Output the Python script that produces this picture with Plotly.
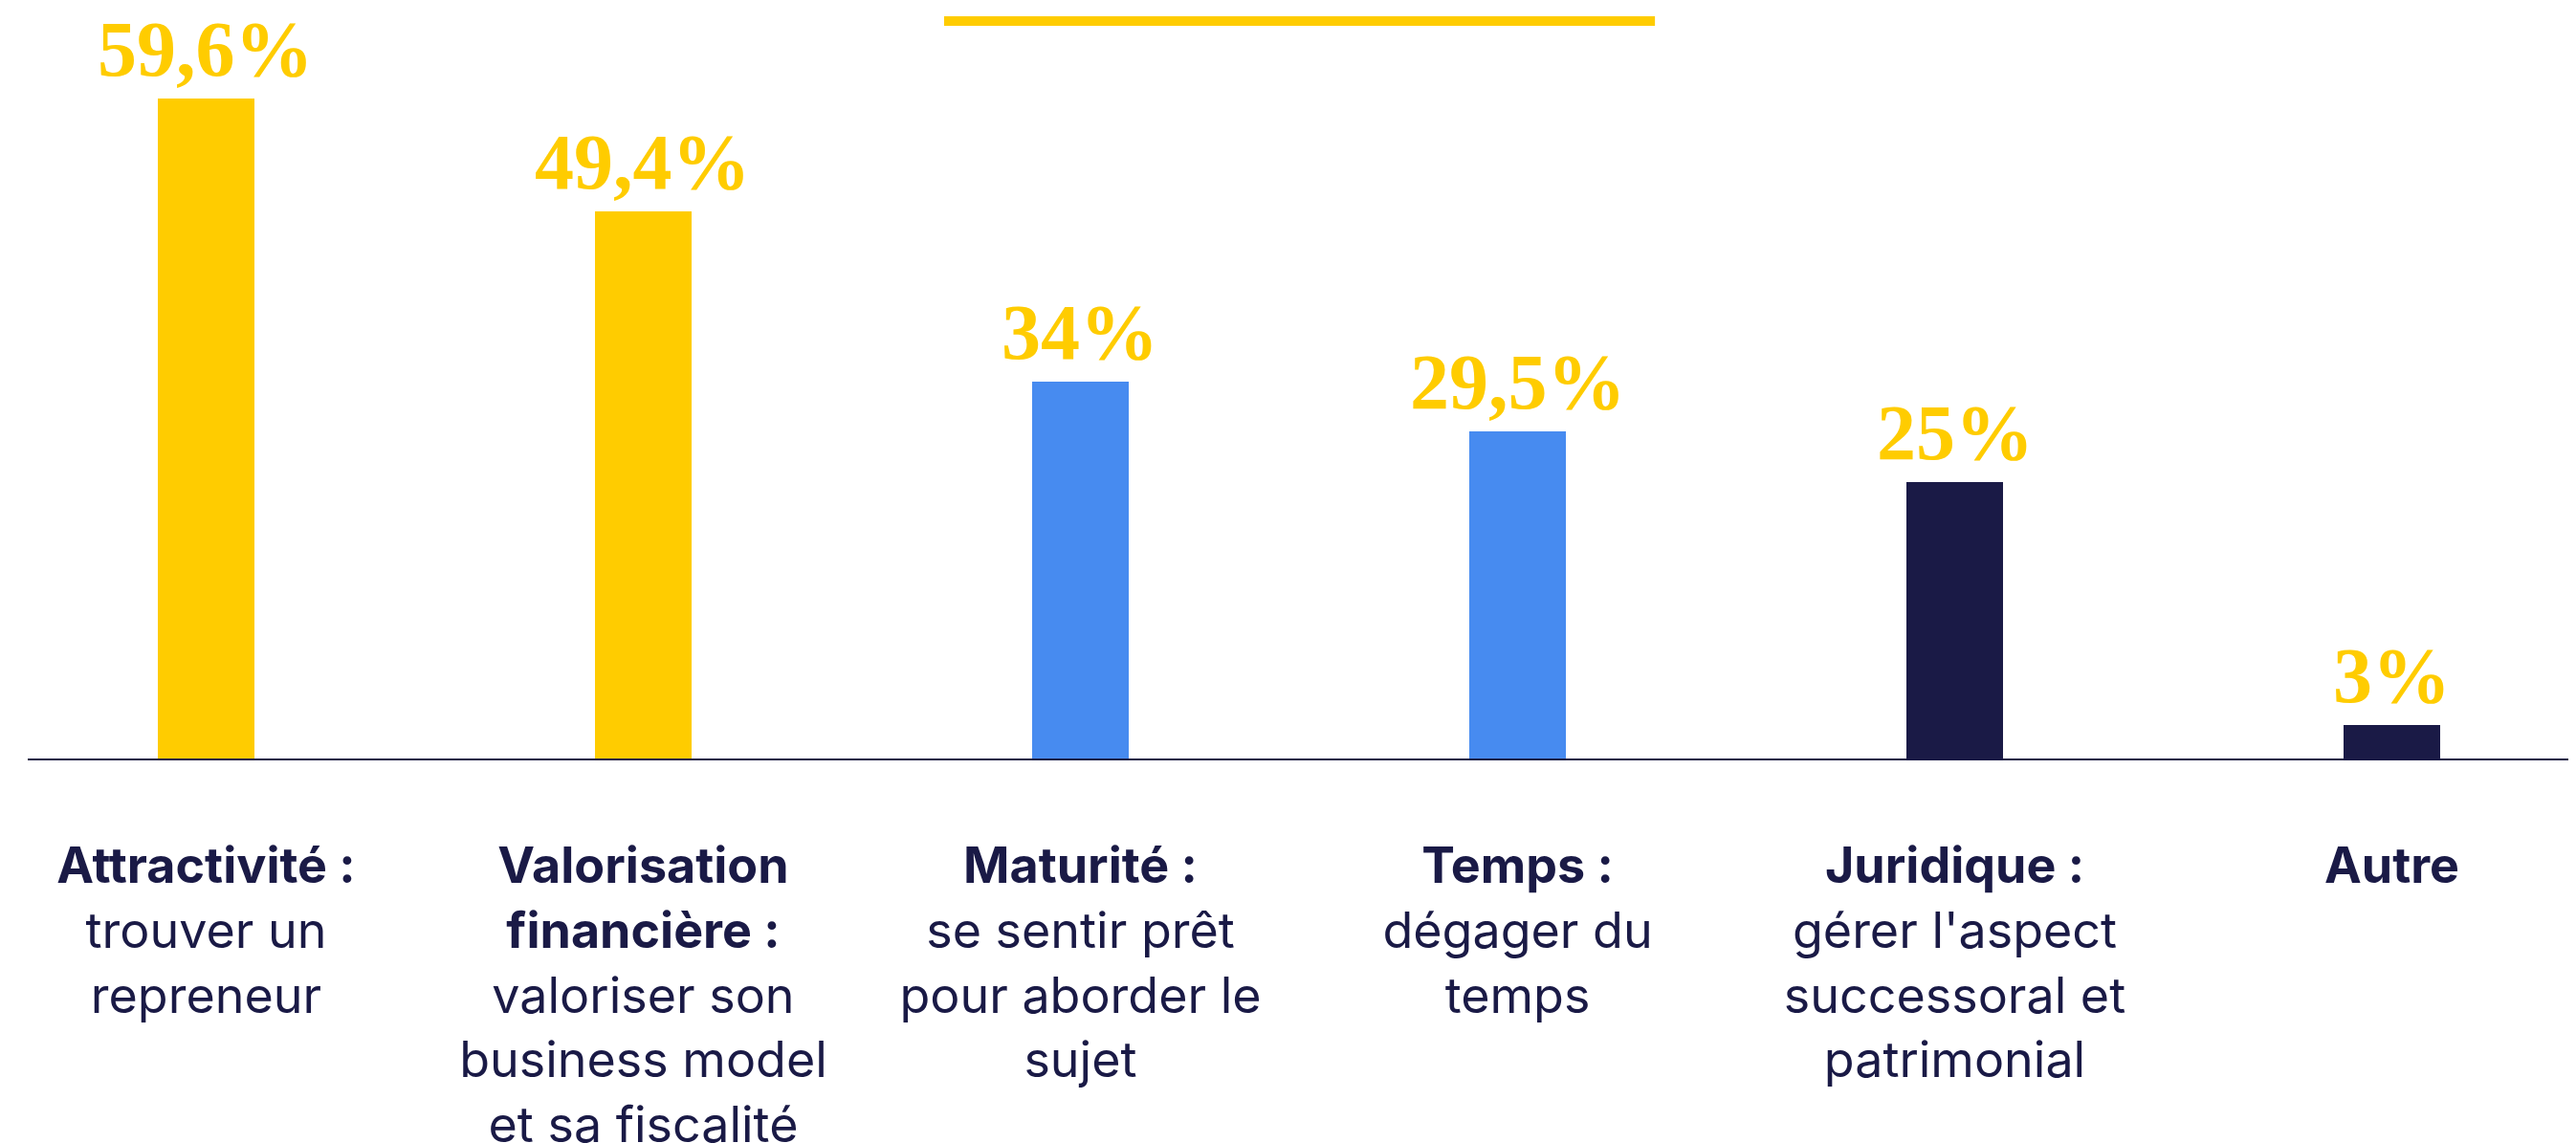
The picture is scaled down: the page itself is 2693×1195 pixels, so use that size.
import plotly.graph_objects as go

# categories: bold heading + plain description
headings = ["Attractivité :", "Valorisation<br>financière :", "Maturité :", "Temps :",
            "Juridique :", "Autre"]
details = ["trouver un<br>repreneur",
           "valoriser son<br>business model<br>et sa fiscalité",
           "se sentir prêt<br>pour aborder le<br>sujet",
           "dégager du<br>temps",
           "gérer l'aspect<br>successoral et<br>patrimonial",
           ""]
values = [59.6, 49.4, 34, 29.5, 25, 3]
bar_colors = ["#FFCC00", "#FFCC00", "#478BF0", "#478BF0", "#1A1A46", "#1A1A46"]

NAVY = "#1A1A46"
YELLOW = "#FFCC00"

ticktext = []
for h, d in zip(headings, details):
    t = f"<b>{h}</b>"
    if d:
        t += "<br>" + d
    ticktext.append(t)

labels = [f"{v:g}".replace(".", ",") + "%" for v in values]
xs = list(range(len(values)))

fig = go.Figure()
fig.add_trace(go.Bar(
    x=xs, y=values, width=0.22,
    marker=dict(color=bar_colors, line=dict(width=0)),
    hoverinfo="skip",
))

# value labels above the bars
for x, v, lab in zip(xs, values, labels):
    fig.add_annotation(x=x, y=v, text=lab, showarrow=False,
                       yanchor="bottom", yshift=4,
                       font=dict(family="Liberation Serif", size=82, color=YELLOW,
                                 weight="bold"))

# small decorative line at the top
fig.add_shape(type="line", xref="paper", yref="paper",
              x0=0.3604, x1=0.640, y0=0.9822, y1=0.9822,
              line=dict(color=YELLOW, width=10))

fig.update_layout(
    width=2679, height=1187,
    margin=dict(l=21, r=0, t=0, b=402),
    paper_bgcolor="white", plot_bgcolor="white",
    showlegend=False,
    bargap=0,
    font=dict(family="Inter", color=NAVY),
)
fig.update_xaxes(
    range=[-0.408, 5.408],
    tickmode="array", tickvals=xs, ticktext=ticktext,
    tickfont=dict(family="Inter", size=52, color=NAVY),
    showline=True, linecolor=NAVY, linewidth=2,
    showgrid=False, zeroline=False, ticks="",
    ticklabelstandoff=66, automargin=False,
)
fig.update_yaxes(range=[0, 67.8], visible=False, showgrid=False, zeroline=False,
                 automargin=False)

fig.write_html("out.html")
